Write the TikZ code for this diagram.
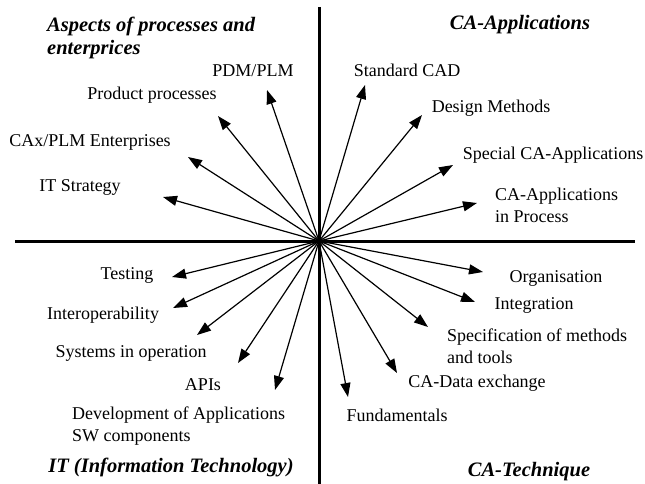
\documentclass[tikz,border=0pt]{standalone}
\usepackage{fontspec}
\setmainfont{Liberation Serif}
\usetikzlibrary{arrows.meta}

\begin{document}
\begin{tikzpicture}[x=1pt,y=-1pt,
  lbl/.style={font=\fontsize{18}{22}\selectfont,inner sep=0pt,align=left},
  ttl/.style={font=\fontsize{20.5}{23.5}\selectfont\bfseries\itshape,inner sep=0pt,align=left},
  arr/.style={-{Triangle[length=14pt,width=10pt]},line width=1.2pt},
  axis/.style={line width=3pt}]
  \useasboundingbox (0,0) rectangle (645,484);
  % axes
  \coordinate (o) at (319,241);
  \coordinate (w) at (15,241);
  \coordinate (e) at (635,241);
  \coordinate (n) at (319,7);
  \coordinate (s) at (319,484);
  \draw[axis] (w) -- (e);
  \draw[axis] (n) -- (s);
  % quadrant titles
  \node[ttl,anchor=west] (aspects) at (47,38) {Aspects of processes and\\enterprices};
  \node[ttl] (caapp) at (520,25) {CA-Applications};
  \node[ttl] (it) at (171,467) {IT (Information Technology)};
  \node[ttl] (catech) at (529,472) {CA-Technique};
  % upper left
  \node[lbl] (pdm) at (253,71) {PDM/PLM};
  \node[lbl] (prod) at (152,95) {Product processes};
  \node[lbl] (cax) at (90,142) {CAx/PLM Enterprises};
  \node[lbl] (its) at (80,187) {IT Strategy};
  \coordinate (pdm-tip) at (267,90);
  \coordinate (prod-tip) at (218,116);
  \coordinate (cax-tip) at (188,157);
  \coordinate (its-tip) at (163,197);
  % upper right
  \node[lbl] (std) at (407,70) {Standard CAD};
  \node[lbl] (des) at (491,108) {Design Methods};
  \node[lbl] (spec) at (553,155) {Special CA-Applications};
  \node[lbl,anchor=west] (cap) at (495,205) {CA-Applications\\in Process};
  \coordinate (std-tip) at (365,85);
  \coordinate (des-tip) at (422,115);
  \coordinate (spec-tip) at (453,165);
  \coordinate (cap-tip) at (477,203);
  % lower left
  \node[lbl] (test) at (127,275) {Testing};
  \node[lbl] (interop) at (103,315) {Interoperability};
  \node[lbl] (sysop) at (131,353) {Systems in operation};
  \node[lbl] (apis) at (203,385) {APIs};
  \node[lbl,anchor=west] (dev) at (72,426) {Development of Applications\\SW components};
  \coordinate (test-tip) at (172,277);
  \coordinate (interop-tip) at (173,308);
  \coordinate (sysop-tip) at (197,335);
  \coordinate (apis-tip) at (238,363);
  \coordinate (dev-tip) at (275,390);
  % lower right
  \node[lbl] (org) at (556,278) {Organisation};
  \node[lbl] (integ) at (534,305) {Integration};
  \node[lbl,anchor=west] (specm) at (447,346) {Specification of methods\\and tools};
  \node[lbl] (cadata) at (477,383) {CA-Data exchange};
  \node[lbl] (fund) at (397,415) {Fundamentals};
  \coordinate (org-tip) at (483,272);
  \coordinate (integ-tip) at (475,302);
  \coordinate (specm-tip) at (428,327);
  \coordinate (cadata-tip) at (397,373);
  \coordinate (fund-tip) at (348,397);
  % arrows
  \foreach \t in {pdm,prod,cax,its,std,des,spec,cap,test,interop,sysop,apis,dev,org,integ,specm,cadata,fund}
    \draw[arr] (o) -- (\t-tip);
\end{tikzpicture}
\end{document}
